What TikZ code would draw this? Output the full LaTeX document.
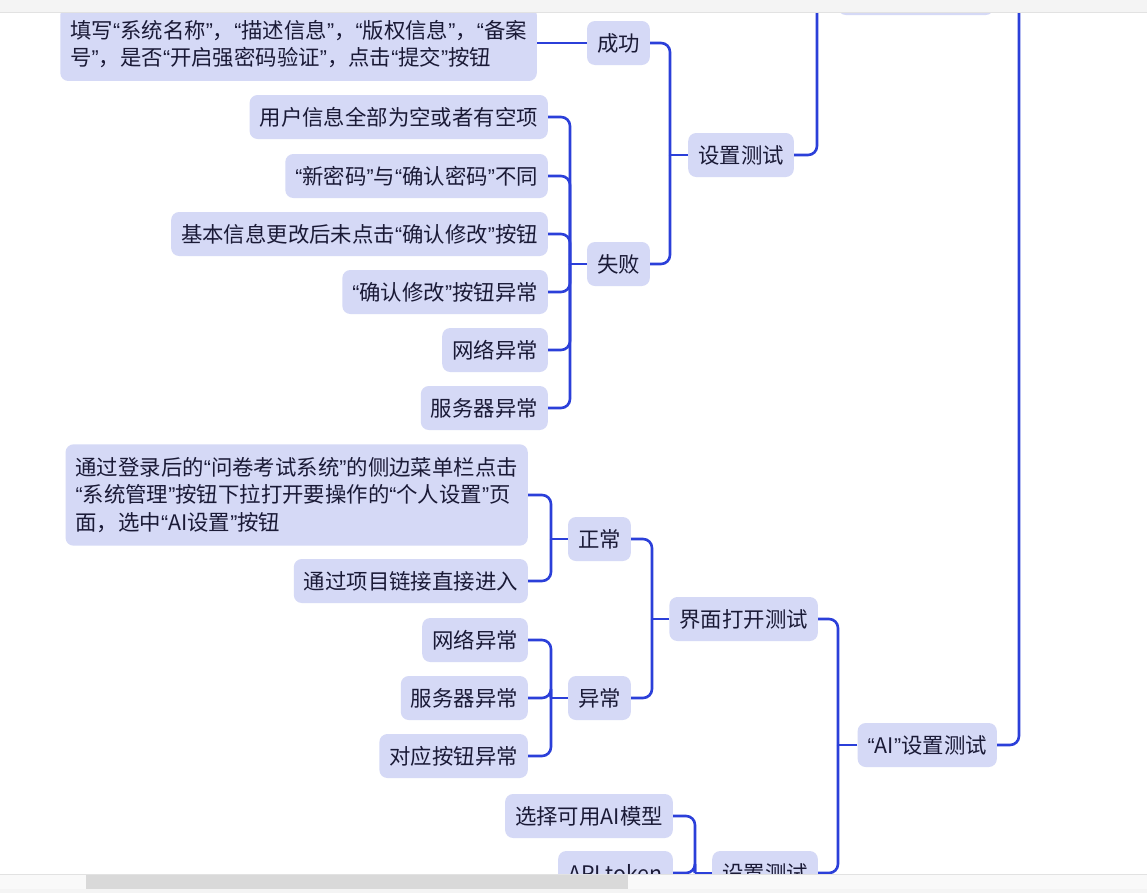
\documentclass[tikz,border=0pt]{standalone}
\usepackage{fontspec}
\newfontfamily\cjk{Noto Sans CJK SC}
\newfontfamily\qfont{Liberation Sans}
\newcommand{\qopen}{{\qfont “}}
\newcommand{\qclose}{{\qfont ”}}
\usepackage{xcolor}
\definecolor{colBox}{HTML}{D5D9F6}
\definecolor{colLine}{HTML}{2B3FD9}
\definecolor{colText}{HTML}{1A1A36}
\definecolor{colBar}{HTML}{F4F4F4}
\definecolor{colBarLine}{HTML}{E2E2E2}
\definecolor{colTrack}{HTML}{F9F9F9}
\definecolor{colThumb}{HTML}{D9D9D9}
\usepackage{tikz}
\usetikzlibrary{positioning, calc}

\begin{document}
\begin{tikzpicture}[x=1pt, y=-1pt,
	topic/.style={fill=colBox, rounded corners=8pt, anchor=east, text=colText,
		font=\cjk\fontsize{21.4}{27.5}\selectfont, minimum height=44pt,
		inner xsep=10pt, inner ysep=6pt, align=left},
	multi/.style={inner ysep=13pt},
	link/.style={draw=colLine, line width=2.6pt, rounded corners=9pt}]
	\useasboundingbox (0,0) rectangle (1147,892);
	\clip (0,0) rectangle (1147,892);
	\fill[white] (0,0) rectangle (1147,892);
	% trunks
	\coordinate (root) at (1045,-40);
	\coordinate (tRoot) at (1019,0);
	\coordinate (tA) at (817,0);
	\coordinate (tSet) at (670,0);
	\coordinate (tFail) at (570,0);
	\coordinate (tAI) at (838,0);
	\coordinate (tOpen) at (652,0);
	\coordinate (tLeaf) at (551,0);
	\coordinate (tSetB) at (695,0);
	% nodes
	\node[topic, minimum width=156pt] (topnode) at (994,-7) {};
	\node[topic] (setA) at (794,155) {设置测试};
	\node[topic] (succ) at (650,43) {成功};
	\node[topic] (fail) at (650,264) {失败};
	\node[topic, multi] (fillin) at (537,44) {填写\qopen 系统名称\qclose ，\qopen 描述信息\qclose ，\qopen 版权信息\qclose ，\qopen 备案\\号\qclose ，是否\qopen 开启强密码验证\qclose ，点击\qopen 提交\qclose 按钮};
	\node[topic] (f1) at (548,117) {用户信息全部为空或者有空项};
	\node[topic] (f2) at (548,176) {\qopen 新密码\qclose 与\qopen 确认密码\qclose 不同};
	\node[topic] (f3) at (548,234) {基本信息更改后未点击\qopen 确认修改\qclose 按钮};
	\node[topic] (f4) at (548,292) {\qopen 确认修改\qclose 按钮异常};
	\node[topic] (f5) at (548,350) {网络异常};
	\node[topic] (f6) at (548,408) {服务器异常};
	\node[topic] (aiset) at (997,745) {\qopen AI\qclose 设置测试};
	\node[topic] (open) at (818,619) {界面打开测试};
	\node[topic] (normal) at (631,539) {正常};
	\node[topic] (abn) at (631,698) {异常};
	\node[topic, multi] (n1) at (528,495) {通过登录后的\qopen 问卷考试系统\qclose 的侧边菜单栏点击\\\qopen 系统管理\qclose 按钮下拉打开要操作的\qopen 个人设置\qclose 页\\面，选中\qopen AI设置\qclose 按钮};
	\node[topic] (n2) at (528,581) {通过项目链接直接进入};
	\node[topic] (a1) at (528,640) {网络异常};
	\node[topic] (a2) at (528,698) {服务器异常};
	\node[topic] (a3) at (528,756) {对应按钮异常};
	\node[topic] (setB) at (818,873) {设置测试};
	\node[topic] (s1) at (673,816) {选择可用AI模型};
	\node[topic] (s2) at (673,873) {API token};
	% connectors
	\draw[link] (root) -- (root -| tRoot);
	\foreach \c in {topnode, aiset}
		\draw[link] (root -| tRoot) |- (\c.east);
	\draw[link] (topnode.west) -- (topnode.west -| tA) |- (setA.east);
	\draw[link] (setA.west) -- (setA.west -| tSet);
	\foreach \c in {succ, fail}
		\draw[link] (setA.west -| tSet) |- (\c.east);
	\draw[link] (succ.west) -- (succ.west -| fillin.east);
	\draw[link] (fail.west) -- (fail.west -| tFail);
	\foreach \c in {f1, f2, f3, f4, f5, f6}
		\draw[link] (fail.west -| tFail) |- (\c.east);
	\draw[link] (aiset.west) -- (aiset.west -| tAI);
	\foreach \c in {open, setB}
		\draw[link] (aiset.west -| tAI) |- (\c.east);
	\draw[link] (open.west) -- (open.west -| tOpen);
	\foreach \c in {normal, abn}
		\draw[link] (open.west -| tOpen) |- (\c.east);
	\draw[link] (normal.west) -- (normal.west -| tLeaf);
	\foreach \c in {n1, n2}
		\draw[link] (normal.west -| tLeaf) |- (\c.east);
	\draw[link] (abn.west) -- (abn.west -| tLeaf);
	\foreach \c in {a1, a2, a3}
		\draw[link] (abn.west -| tLeaf) |- (\c.east);
	\draw[link] (setB.west) -- (setB.west -| tSetB);
	\foreach \c in {s1, s2}
		\draw[link] (setB.west -| tSetB) |- (\c.east);
	% window bars
	\fill[colBar] (0,-5) rectangle (1147,12);
	\draw[colBarLine] (0,12) -- (1147,12);
	\fill[colTrack] (0,874) rectangle (1147,889);
	\draw[colBarLine] (0,874) -- (1147,874);
	\fill[colThumb] (86,875) rectangle (628,889);
	\fill[colBar] (0,888.5) rectangle (1147,897);
\end{tikzpicture}
\end{document}
